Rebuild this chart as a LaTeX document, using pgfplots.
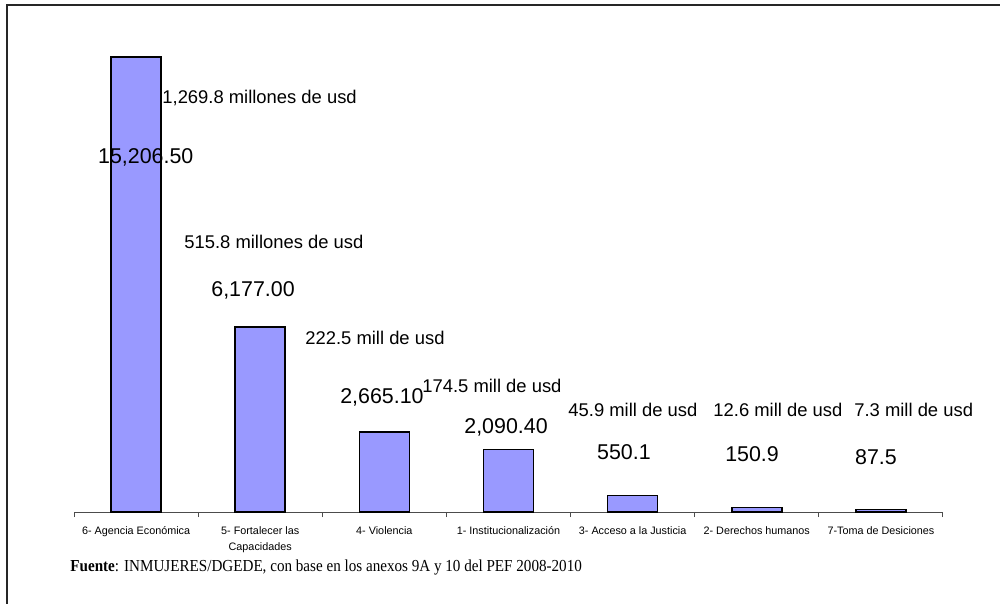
\documentclass[border=0pt]{standalone}
\usepackage{fontspec}
\setmainfont{Liberation Sans}
\newfontfamily\timesf{Liberation Serif}
\usepackage{pgfplots}
\pgfplotsset{compat=1.18}
\definecolor{barblue}{HTML}{9999FF}
\begin{document}
\begin{tikzpicture}
\path[use as bounding box] (0,0) rectangle (500bp,-302bp);
\draw[line width=1bp, black!85] (3.5bp,-302bp) -- (3.5bp,-2.5bp) -- (500bp,-2.5bp);
\begin{axis}[
  at={(37bp,-256bp)}, anchor=south west,
  scale only axis, width=434.5bp, height=227.5bp,
  xmin=-0.5, xmax=6.5, ymin=0, ymax=15206.5,
  axis x line*=bottom, axis y line=none,
  x axis line style={black!70, line width=0.5bp},
  xtick={0,...,6},
  xticklabels={{6- Agencia Económica},{5- Fortalecer las\\Capacidades},{4- Violencia},{1- Institucionalización},{3- Acceso a la Justicia},{2- Derechos humanos},{7-Toma de Desiciones}},
  xticklabel style={font=\fontsize{5.4bp}{8bp}\selectfont, align=center, yshift=-4bp},
  major tick length=0pt,
  minor xtick={-0.5,0.5,...,6.5},
  minor tick length=2.5bp,
  tick align=outside,
  minor tick style={black!70, line width=0.5bp},
  clip=false,
]
\addplot[ybar, bar width=25bp, fill=barblue, draw=black, line width=0.8bp]
  coordinates {(0,15206.5) (1,6177.0) (2,2665.1) (3,2090.4) (4,550.1) (5,150.9) (6,87.5)};
\begin{scope}[every node/.style={inner sep=0pt}]
\node[anchor=west, font=\fontsize{9.2bp}{11bp}\selectfont] at (axis cs:0.209,13836) {1,269.8 millones de usd};
\node[font=\fontsize{10.7bp}{12bp}\selectfont] at (axis cs:0.078,11864) {15,206.50};
\node[anchor=west, font=\fontsize{9.2bp}{11bp}\selectfont] at (axis cs:0.386,9023) {515.8 millones de usd};
\node[font=\fontsize{10.7bp}{12bp}\selectfont] at (axis cs:0.942,7419) {6,177.00};
\node[anchor=west, font=\fontsize{9.2bp}{11bp}\selectfont] at (axis cs:1.361,5815) {222.5 mill de usd};
\node[font=\fontsize{10.7bp}{12bp}\selectfont] at (axis cs:1.981,3843) {2,665.10};
\node[anchor=west, font=\fontsize{9.2bp}{11bp}\selectfont] at (axis cs:2.303,4211) {174.5 mill de usd};
\node[font=\fontsize{10.7bp}{12bp}\selectfont] at (axis cs:2.980,2841) {2,090.40};
\node[anchor=west, font=\fontsize{9.2bp}{11bp}\selectfont] at (axis cs:3.480,3409) {45.9 mill de usd};
\node[font=\fontsize{10.7bp}{12bp}\selectfont] at (axis cs:3.930,2005) {550.1};
\node[anchor=west, font=\fontsize{9.2bp}{11bp}\selectfont] at (axis cs:4.648,3409) {12.6 mill de usd};
\node[font=\fontsize{10.7bp}{12bp}\selectfont] at (axis cs:4.962,1938) {150.9};
\node[anchor=west, font=\fontsize{9.2bp}{11bp}\selectfont] at (axis cs:5.783,3409) {7.3 mill de usd};
\node[font=\fontsize{10.7bp}{12bp}\selectfont] at (axis cs:5.960,1838) {87.5};
\end{scope}
\end{axis}
\node[anchor=west, inner sep=0pt, font=\timesf\fontsize{8.4bp}{10bp}\selectfont] at (35bp,-283.5bp) {\scalebox{0.9}[1]{\textbf{Fuente}: INMUJERES/DGEDE, con base en los anexos 9A y 10 del PEF 2008-2010}};
\end{tikzpicture}
\end{document}
